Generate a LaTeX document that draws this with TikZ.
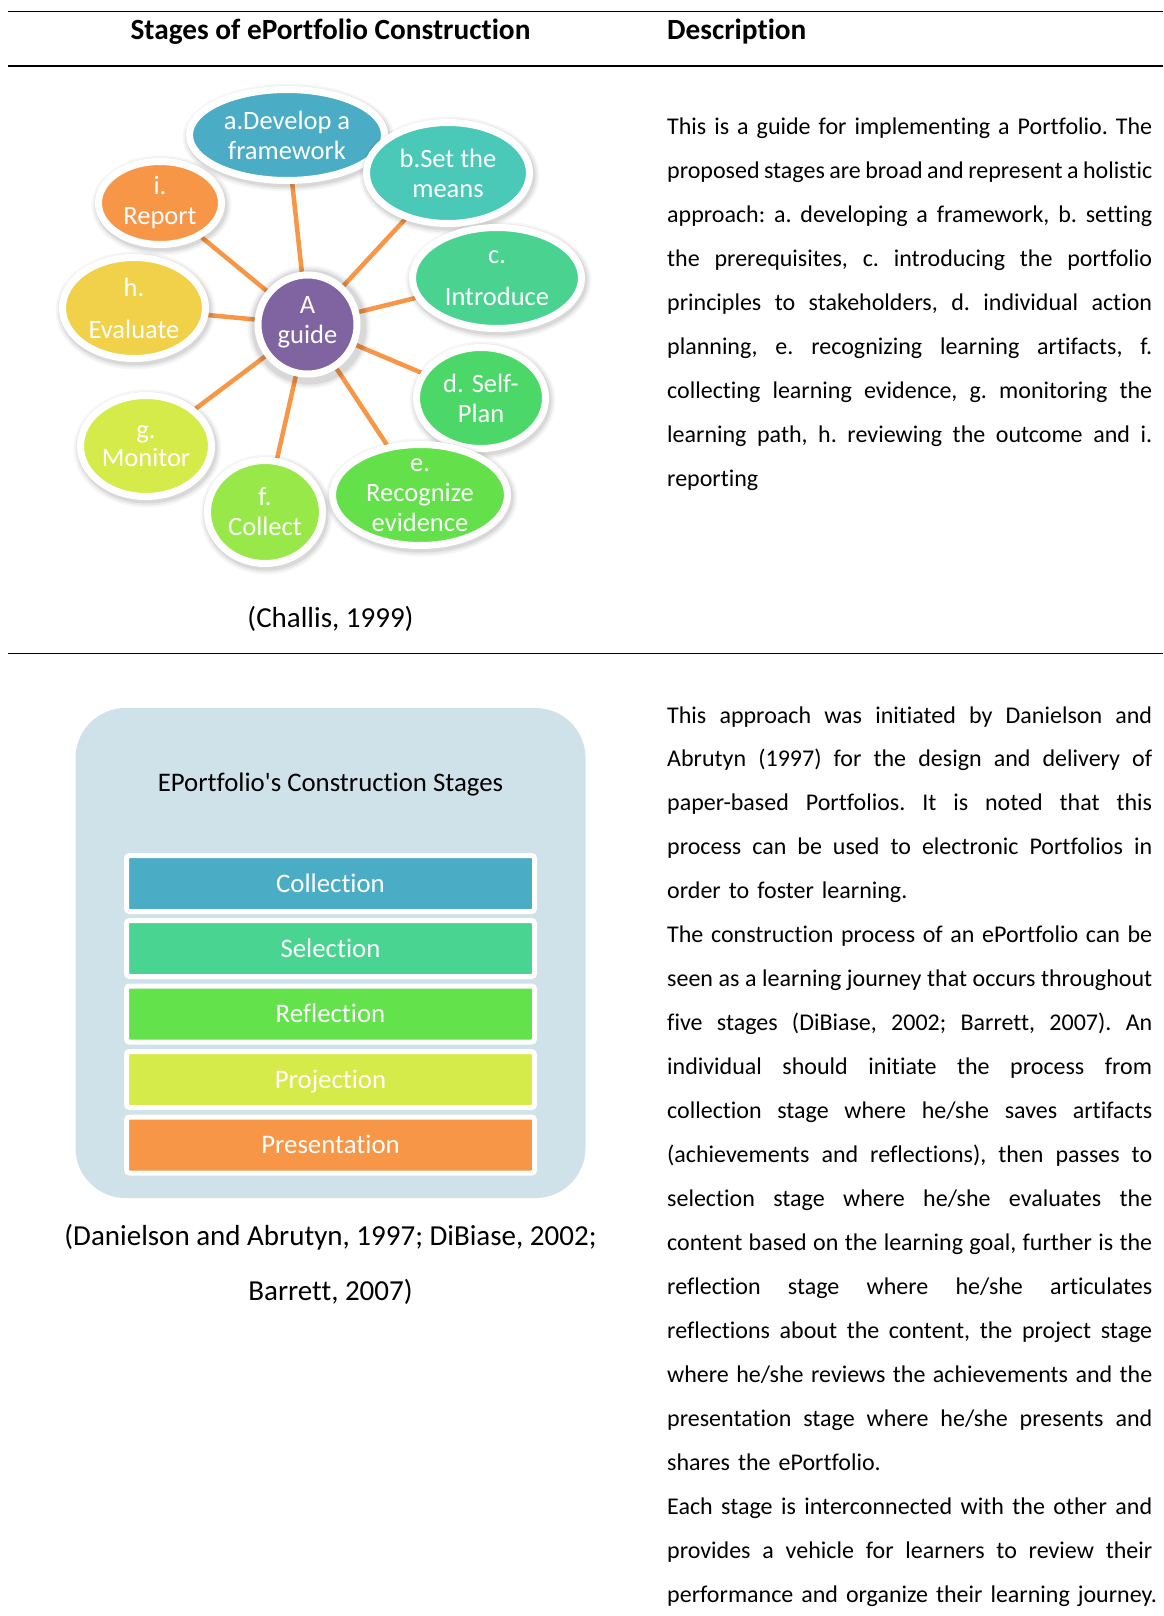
\documentclass[tikz,border=0pt]{standalone}
\usepackage{fontspec}
\setmainfont{Carlito}[Ligatures={TeX,NoCommon}]
\usetikzlibrary{shapes.geometric}

\definecolor{cA}{RGB}{75,172,198}
\definecolor{cB}{RGB}{74,201,185}
\definecolor{cC}{RGB}{74,210,145}
\definecolor{cD}{RGB}{76,216,104}
\definecolor{cE}{RGB}{99,224,74}
\definecolor{cF}{RGB}{152,232,74}
\definecolor{cG}{RGB}{212,235,74}
\definecolor{cH}{RGB}{241,208,74}
\definecolor{cI}{RGB}{247,150,70}
\definecolor{cHub}{RGB}{128,100,162}
\definecolor{spokecol}{RGB}{247,150,70}
\definecolor{panelbg}{RGB}{208,226,233}
\definecolor{sCol}{RGB}{75,172,198}
\definecolor{sSel}{RGB}{74,212,146}
\definecolor{sRef}{RGB}{99,226,75}
\definecolor{sPro}{RGB}{213,235,74}
\definecolor{sPre}{RGB}{247,150,70}

\pgfdeclarelayer{paper}
\pgfdeclarelayer{links}
\pgfsetlayers{paper,links,main}

% one justified line of the description column: the spaces share out the slack evenly
\newcommand\jline[1]{{\spaceskip=0pt plus 1fil\makebox[485pt][s]{#1}}\\}

% bubble: name, x, y, x radius, y radius, colour, label
\newcommand\bubble[7]{%
  \foreach \s/\o in {12/0.035,10/0.05,8/0.07}{%
    \fill[black,opacity=\o] (#2+1.5,#3+2.5) ellipse [x radius=#4+\s, y radius=#5+\s];}
  \node[bubble, fill=#6, minimum width=2*#4+7, minimum height=2*#5+7] (#1) at (#2,#3) {};
  \node[bubtext] (#1txt) at (#2,#3) {#7};
}

\tikzset{
  bubble/.style={ellipse, draw=white, line width=7, inner sep=0},
  bubtext/.style={text=white, align=center, inner sep=0, font=\fontsize{26.5}{30}\selectfont},
  hubnode/.style={circle, draw=white, line width=7, fill=cHub, inner sep=0, minimum size=99},
  spoke/.style={draw=spokecol, line width=4.5},
  tablerule/.style={line width=1.8},
  head/.style={inner sep=0, font=\fontsize{29.3}{35}\bfseries\selectfont},
  body/.style={inner sep=0, text width=486, align=left, font=\fontsize{24}{43.95}\selectfont\frenchspacing},
  caption/.style={inner sep=0, font=\fontsize{29}{35}\selectfont},
  panel/.style={fill=panelbg, rounded corners=50, minimum width=510, minimum height=490, inner sep=0},
  ptitle/.style={inner sep=0, font=\fontsize{26.8}{32}\selectfont},
  stagebar/.style={rectangle, draw=white, line width=5, rounded corners=3, minimum width=408,
    minimum height=56, inner sep=0, text=white, text height=17, text depth=0,
    font=\fontsize{26.8}{31}\selectfont},
}

\begin{document}
\begin{tikzpicture}[x=1pt, y=-1pt]
\useasboundingbox (0,0) rectangle (1163,1616);
\begin{pgfonlayer}{paper}
  \fill[white] (0,0) rectangle (1163,1616);
\end{pgfonlayer}

% table rules
\draw[tablerule] (8,11.5) -- (1163,11.5);
\draw[tablerule] (8,66) -- (1163,66);
\draw[tablerule] (8,653.5) -- (1163,653.5);

% column headings
\node[head, anchor=base] (headstages) at (330.5,40) {Stages of ePortfolio Construction};
\node[head, anchor=base west] (headdesc) at (667,40) {Description};

% ---- hub-and-spoke diagram ----
\foreach \s/\o in {12/0.035,10/0.05,8/0.07}{%
  \fill[black,opacity=\o] (309,327) circle [radius=49.5+\s];}
\node[hubnode] (hub) at (307.5,324.5) {};
\node[bubtext] (hubtxt) at (307.5,322) {A\\guide};

\bubble{a}{287}{135}{94}{42}{cA}{a.Develop a\\framework}
\bubble{b}{448}{173}{78}{47}{cB}{b.Set the\\means}
\bubble{c}{497}{278}{81}{47}{cC}{c.\\[12pt]Introduce}
\bubble{d}{481}{398}{61}{47}{cD}{d. Self-\\Plan}
\bubble{e}{420}{495}{84}{47}{cE}{e.\\Recognize\\evidence}
\bubble{f}{265}{512}{54}{48}{cF}{f.\\Collect}
\bubble{g}{146}{446}{62}{47}{cG}{g.\\[-2pt]Monitor}
\bubble{h}{134}{308}{68}{47}{cH}{h.\\[12pt]Evaluate}
\bubble{i}{160}{203}{58}{38}{cI}{i.\\Report}

\begin{pgfonlayer}{links}
  \foreach \n in {a,b,c,d,e,f,g,h,i}
    \draw[spoke] (hub) -- (\n);
\end{pgfonlayer}

\node[caption, anchor=base] (cap1) at (330.5,627) {(Challis, 1999)};

% ---- construction stages panel ----
\node[panel] (panel) at (330.5,953) {};
\node[ptitle] (ptitle) at (330.5,784) {EPortfolio\textquotesingle s Construction Stages};
\node[stagebar, fill=sCol] (s1) at (330.5,883.5) {Collection};
\node[stagebar, fill=sSel] (s2) at (330.5,948.5) {Selection};
\node[stagebar, fill=sRef] (s3) at (330.5,1014) {Reflection};
\node[stagebar, fill=sPro] (s4) at (330.5,1079.5) {Projection};
\node[stagebar, fill=sPre] (s5) at (330.5,1145) {Presentation};

\node[caption, anchor=base] (cap2a) at (330.5,1245) {(Danielson and Abrutyn, 1997; DiBiase, 2002;};
\node[caption, anchor=base] (cap2b) at (330.5,1300) {Barrett, 2007)};

% ---- description column ----
\node[body, anchor=base west] (desc1) at (667,135) {%
\jline{This is a guide for implementing a Portfolio. The}
\jline{proposed stages are broad and represent a holistic}
\jline{approach: a. developing a framework, b. setting}
\jline{the prerequisites, c. introducing the portfolio}
\jline{principles to stakeholders, d. individual action}
\jline{planning, e. recognizing learning artifacts, f.}
\jline{collecting learning evidence, g. monitoring the}
\jline{learning path, h. reviewing the outcome and i.}
reporting};

\node[body, anchor=base west] (desc2) at (667,723) {%
\jline{This approach was initiated by Danielson and}
\jline{Abrutyn (1997) for the design and delivery of}
\jline{paper-based Portfolios. It is noted that this}
\jline{process can be used to electronic Portfolios in}
order to foster learning.\\
\jline{The construction process of an ePortfolio can be}
\jline{seen as a learning journey that occurs throughout}
\jline{five stages (DiBiase, 2002; Barrett, 2007). An}
\jline{individual should initiate the process from}
\jline{collection stage where he/she saves artifacts}
\jline{(achievements and reflections), then passes to}
\jline{selection stage where he/she evaluates the}
\jline{content based on the learning goal, further is the}
\jline{reflection stage where he/she articulates}
\jline{reflections about the content, the project stage}
\jline{where he/she reviews the achievements and the}
\jline{presentation stage where he/she presents and}
shares the ePortfolio.\\
\jline{Each stage is interconnected with the other and}
\jline{provides a vehicle for learners to review their}
\mbox{performance and organize their learning journey.}};
\end{tikzpicture}
\end{document}
